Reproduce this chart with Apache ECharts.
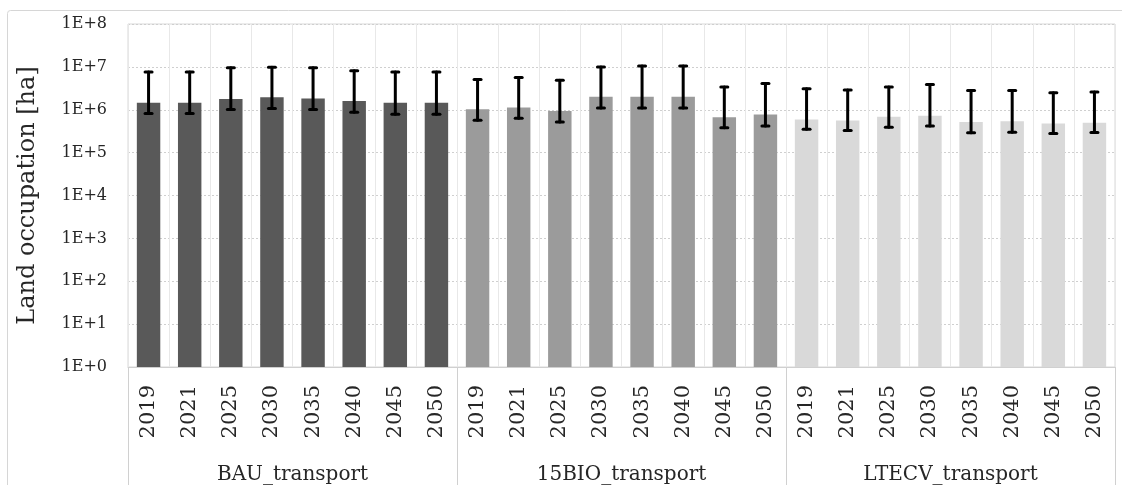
<!DOCTYPE html>
<html>
<head>
<meta charset="utf-8">
<script src="https://cdn.jsdelivr.net/npm/echarts@6/dist/echarts.min.js"></script>
<style>
html,body{margin:0;padding:0;background:#fff;}
#chart{width:1122px;height:485px;}
</style>
</head>
<body>
<div id="chart"></div>
<script>
const years = ['2019','2021','2025','2030','2035','2040','2045','2050'];
const groups = ['BAU_transport','15BIO_transport','LTECV_transport'];
const groupColors = ['#595959','#9b9b9b','#d9d9d9'];

const bauValues   = [1.45e6,1.45e6,1.78e6,1.95e6,1.83e6,1.59e6,1.45e6,1.45e6];
const bauLow      = [8.2e5,8.2e5,1.02e6,1.07e6,1.02e6,8.7e5,7.9e5,7.9e5];
const bauHigh     = [7.6e6,7.6e6,9.5e6,9.8e6,9.5e6,8.1e6,7.6e6,7.6e6];

const bioValues   = [1.03e6,1.13e6,9.4e5,2.0e6,2.0e6,2.0e6,6.7e5,7.8e5];
const bioLow      = [5.7e5,6.3e5,5.2e5,1.1e6,1.1e6,1.1e6,3.8e5,4.2e5];
const bioHigh     = [5.1e6,5.65e6,4.9e6,1.0e7,1.05e7,1.05e7,3.4e6,4.1e6];

const ltecvValues = [5.9e5,5.6e5,6.9e5,7.2e5,5.2e5,5.4e5,4.8e5,5.0e5];
const ltecvLow    = [3.5e5,3.3e5,3.9e5,4.2e5,2.9e5,3.0e5,2.8e5,2.95e5];
const ltecvHigh   = [3.1e6,2.9e6,3.4e6,3.9e6,2.8e6,2.8e6,2.5e6,2.6e6];

const yTickLabels = ['1E+0','1E+1','1E+2','1E+3','1E+4','1E+5','1E+6','1E+7','1E+8'];

const valueSets = [bauValues, bioValues, ltecvValues];
const lowSets = [bauLow, bioLow, ltecvLow];
const highSets = [bauHigh, bioHigh, ltecvHigh];

const categories = [];
const barData = [];
const errData = [];
valueSets.forEach((vals, g) => {
  vals.forEach((v, i) => {
    const idx = categories.length;
    categories.push(years[i]);
    barData.push({value: v, itemStyle: {color: groupColors[g]}});
    errData.push([idx, lowSets[g][i], highSets[g][i]]);
  });
});

const FONT = 'DejaVu Serif';
const TXT = '#262626';
const chart = echarts.init(document.getElementById('chart'), null, {renderer: 'canvas'});
chart.setOption({
  animation: false,
  backgroundColor: '#ffffff',
  graphic: [{
    type: 'rect',
    shape: {x: 7.5, y: 10.5, width: 1140, height: 520, r: 3},
    style: {fill: 'none', stroke: '#d6d6d6', lineWidth: 1},
    z: -1
  }],
  grid: {
    left: 128, right: 7, top: 24, bottom: 118,
    show: true, borderColor: '#d9d9d9', borderWidth: 1, backgroundColor: 'transparent'
  },
  xAxis: [{
    type: 'category',
    data: categories,
    boundaryGap: true,
    axisLine: {show: true, lineStyle: {color: '#d0d0d0', width: 1}},
    axisTick: {show: false},
    splitLine: {show: true, interval: 0, lineStyle: {color: '#e8e8e8', width: 1}},
    axisLabel: {
      interval: 0, rotate: 90, margin: 18,
      fontFamily: FONT, fontSize: 21, color: TXT
    }
  }, {
    type: 'category',
    data: groups,
    position: 'bottom',
    boundaryGap: true,
    axisLine: {show: false},
    axisTick: {show: true, length: 120, lineStyle: {color: '#d0d0d0', width: 1}},
    splitLine: {show: false},
    axisLabel: {
      interval: 0, margin: 98,
      fontFamily: FONT, fontSize: 20, color: TXT
    }
  }],
  yAxis: {
    type: 'log',
    logBase: 10,
    min: 1,
    max: 1e8,
    name: 'Land occupation [ha]',
    nameLocation: 'middle',
    nameGap: 88,
    nameTextStyle: {fontFamily: FONT, fontSize: 24, color: TXT},
    axisLine: {show: false},
    axisTick: {show: false},
    splitLine: {show: true, lineStyle: {color: '#cfcfcf', type: [2, 2], width: 1}},
    axisLabel: {
      margin: 21,
      fontFamily: FONT, fontSize: 16, color: TXT,
      formatter: v => yTickLabels[Math.round(Math.log10(v))]
    }
  },
  series: [{
    type: 'bar',
    xAxisIndex: 0,
    data: barData,
    barWidth: '57%',
    z: 2
  }, {
    type: 'custom',
    xAxisIndex: 0,
    data: errData,
    z: 5,
    renderItem: function (params, api) {
      const x = api.value(0);
      const lo = api.coord([x, api.value(1)]);
      const hi = api.coord([x, api.value(2)]);
      const hw = 3.5;
      const style = {stroke: '#000000', lineWidth: 3, lineCap: 'round'};
      return {
        type: 'group',
        children: [
          {type: 'line', shape: {x1: hi[0], y1: hi[1], x2: lo[0], y2: lo[1]}, style: style},
          {type: 'line', shape: {x1: hi[0]-hw, y1: hi[1], x2: hi[0]+hw, y2: hi[1]}, style: style},
          {type: 'line', shape: {x1: lo[0]-hw, y1: lo[1], x2: lo[0]+hw, y2: lo[1]}, style: style}
        ]
      };
    }
  }]
});
</script>
</body>
</html>
